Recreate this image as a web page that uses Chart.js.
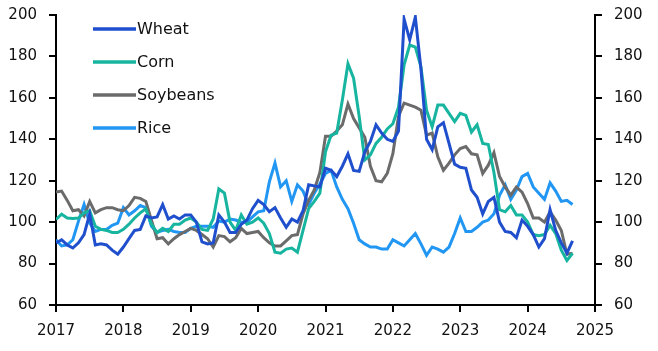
<!DOCTYPE html>
<html>
<head>
<meta charset="utf-8">
<script src="https://cdn.jsdelivr.net/npm/chart.js@4.4.1/dist/chart.umd.min.js"></script>
<style>
  html, body { margin: 0; padding: 0; background: #fff; }
  #wrap { width: 658px; height: 351px; }
</style>
</head>
<body>
<div id="wrap"><canvas id="myChart" width="658" height="351"></canvas></div>
<script>
// monthly index values, Jan 2017 .. Sep 2024
const firstYear = 2017;
const seriesNames = ['Wheat', 'Corn', 'Soybeans', 'Rice'];
const seriesColors = ['#1f4fcc', '#17b5a0', '#6b6b6b', '#2196f3'];

const wheat = [
  90, 91.5, 89, 87.5, 90, 94, 104, 89, 89.5, 89, 86.5, 84.5,
  88, 92, 96, 96.5, 103, 102, 102.5, 108.5, 101.5, 103, 101.5, 103.5,
  103.5, 100, 90.5, 89.5, 90, 103.5, 100, 95, 95, 99, 101, 106.5,
  110.5, 108.5, 105, 107, 102, 97.5, 101.5, 100, 105.5, 118, 117.5, 117,
  126, 125, 122, 127, 133, 125, 124.5, 134, 139, 147, 143, 140,
  139, 144, 198, 188, 199, 174, 140, 135, 146, 148, 138, 128,
  126.5, 126, 115.5, 112, 104, 110, 112, 100, 95.5, 95, 92.5, 101,
  98, 94, 88, 92, 106, 96, 90, 85, 91
];
const corn = [
  101.3, 103.8, 102, 101.8, 102, 104.5, 105.5, 98, 96.5, 96, 95, 95,
  96.5, 99, 102, 104.5, 106.5, 99, 95, 97, 95.5, 99, 99, 101,
  102, 100, 96.5, 96, 101.5, 116, 114, 100, 96, 103.5, 99, 100,
  102, 99.5, 94.5, 85.5, 85, 87, 87.5, 85.5, 96, 106.5, 110, 114,
  134, 142, 143, 159, 176.5, 169.5, 151, 130, 132.5, 138, 141, 145,
  147.5, 155.5, 176, 185.5, 184.5, 175, 154, 146, 156.5, 156.5, 152.5, 148.5,
  152.5, 151.5, 143.5, 147, 138, 137.5, 124, 106, 105, 108, 103.5, 103.5,
  100, 94, 93.5, 94, 98.5, 94.5, 86.5, 81.5, 85
];
const soybeans = [
  114.5, 115, 110.5, 105.5, 106, 103, 110, 104.5, 106, 107, 107, 106,
  105.5, 108, 112, 111.5, 110, 101, 92, 92.5, 89.5, 92, 94, 95.5,
  97, 96, 94, 92, 88, 93.5, 93, 90.5, 92.5, 97, 94.5, 95,
  95.5, 92.5, 90, 88.5, 88.5, 91, 93.5, 94, 104, 110.5, 115.5, 124,
  141.5, 141.5, 144, 147, 157, 150, 145.5, 141, 127, 120, 119.5, 123.5,
  133, 151, 157.5, 156.5, 155.5, 154, 142, 143, 131.5, 125, 128.5, 132.5,
  135.5, 136.5, 133, 132.5, 123.5, 127.5, 133.5, 122, 117, 113, 117, 114.5,
  109, 102, 102, 100, 105, 101, 96, 84.5, 85
];
const rice = [
  91.5, 88.5, 89, 91.5, 100.5, 108.5, 99.5, 95.5, 96.5, 96.5, 98.5, 99.5,
  107, 103.5, 105.5, 108, 107, 98, 95, 96, 96.5, 95.5, 95, 95,
  97, 98, 98, 98, 97.5, 100.5, 100, 101.5, 101, 100, 100, 102.5,
  105, 105.5, 119.5, 128.5, 117, 120, 110, 118, 115, 108.5, 114, 118.5,
  123.5, 125, 117, 111, 106.5, 99.5, 91.5, 89.5, 88, 88, 87, 87,
  91.5, 90, 88.5, 91.5, 94.5, 89.5, 84, 88, 87, 85.5, 88, 94.5,
  102, 95.5, 95.5, 97.5, 100, 101, 104, 113, 118, 111, 115.5, 122,
  123.5, 117, 114, 111, 119, 115, 110, 110.5, 108.5
];

const xTickLabels = ['2017', '2018', '2019', '2020', '2021', '2022', '2023', '2024', '2025'];
const yTickLabels = [60, 80, 100, 120, 140, 160, 180, 200];

const allSeries = [wheat, corn, soybeans, rice];

function toPoints(values) {
  return values.map((v, i) => ({ x: firstYear + i / 12, y: v }));
}

const insideLegend = {
  id: 'insideLegend',
  afterDraw(chart) {
    const c = chart.ctx;
    const left = chart.chartArea.left;
    c.save();
    c.font = '16px "DejaVu Sans"';
    c.textBaseline = 'middle';
    chart.data.datasets.forEach((ds, i) => {
      const y = 29 + i * 33;
      c.strokeStyle = ds.borderColor;
      c.lineWidth = 3.5;
      c.beginPath();
      c.moveTo(left + 37, y);
      c.lineTo(left + 80, y);
      c.stroke();
      c.fillStyle = '#111';
      c.fillText(ds.label, left + 81, y + 1);
    });
    c.restore();
  }
};

const axisStyle = {
  border: { color: '#000', width: 2 },
  grid: { drawOnChartArea: false, drawTicks: true, tickLength: 7, color: '#000', lineWidth: 2 },
};
const tickFont = { family: '"DejaVu Sans"', size: 15 };

const yScale = (pos, width) => ({
  type: 'linear',
  position: pos,
  min: yTickLabels[0],
  max: yTickLabels[yTickLabels.length - 1],
  ...axisStyle,
  ticks: { stepSize: 20, color: '#111', font: tickFont, padding: 12 },
  afterFit: s => {
    s.width = width;
    s.paddingTop = 0;
    s.paddingBottom = 0;
  }
});

const myChart = new Chart(document.getElementById('myChart'), {
  type: 'line',
  data: {
    datasets: seriesNames.map((name, i) => ({
      label: name,
      data: toPoints(allSeries[i]),
      borderColor: seriesColors[i],
      backgroundColor: seriesColors[i],
      borderWidth: 3,
      pointRadius: 0,
      tension: 0,
      yAxisID: 'y'
    }))
  },
  options: {
    responsive: false,
    animation: false,
    layout: { padding: { top: 15, left: 0, right: 0, bottom: 0 } },
    plugins: { legend: { display: false }, tooltip: { enabled: false } },
    scales: {
      x: {
        type: 'linear',
        min: firstYear,
        max: firstYear + xTickLabels.length - 1,
        ...axisStyle,
        ticks: {
          stepSize: 1,
          color: '#111',
          font: tickFont,
          padding: 10,
          maxRotation: 0,
          callback: (v, i) => xTickLabels[i]
        },
        afterFit: s => { s.height = 46; }
      },
      y: yScale('left', 56),
      y2: yScale('right', 63)
    }
  },
  plugins: [insideLegend]
});
</script>
</body>
</html>
